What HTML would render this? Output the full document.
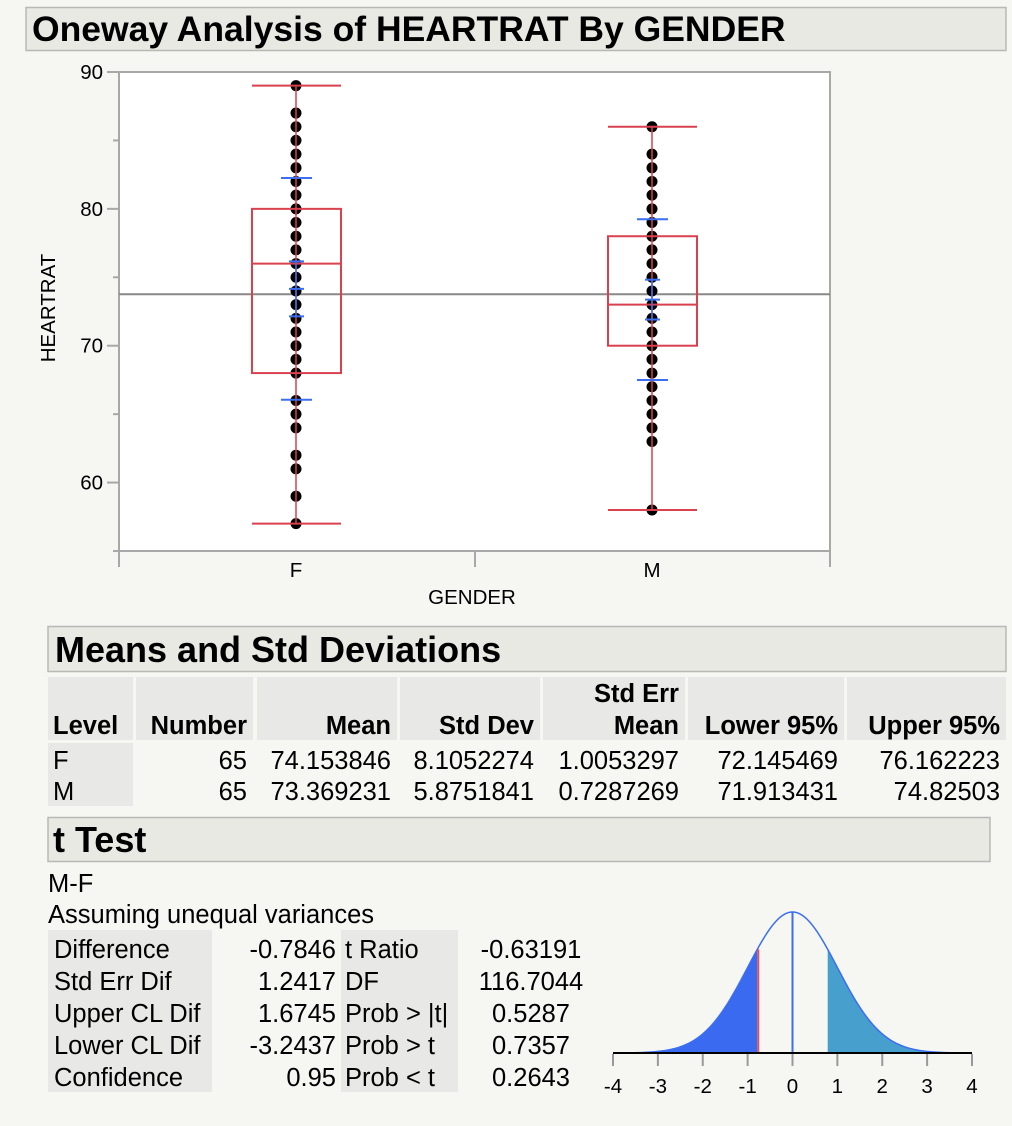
<!DOCTYPE html>
<html><head><meta charset="utf-8">
<style>
html,body{margin:0;padding:0;background:#f6f6f2;}
svg{display:block;font-family:"Liberation Sans",Arial,sans-serif;}
</style></head>
<body>
<svg id="root" width="1012" height="1126" viewBox="0 0 1012 1126">
<rect x="0" y="0" width="1012" height="1126" fill="#f6f6f2"/>
<g>
<rect x="26" y="7.5" width="980" height="43" fill="#e9e9e4" stroke="#b8b8b4" stroke-width="1.5"/>
<text x="32" y="41" font-size="35.5" font-weight="bold" fill="#000">Oneway Analysis of HEARTRAT By GENDER</text>
</g>
<g id="plot"></g>
<g>
<rect x="48" y="626.5" width="958" height="45" fill="#e9e9e4" stroke="#b8b8b4" stroke-width="1.5"/>
<text x="55" y="662" font-size="36" font-weight="bold">Means and Std Deviations</text>
</g>
<g id="means"></g>
<g>
<rect x="48" y="817.5" width="942" height="44" fill="#e9e9e4" stroke="#b8b8b4" stroke-width="1.5"/>
<text x="53" y="852" font-size="36" font-weight="bold">t Test</text>
</g>
<text x="48" y="892" font-size="25.5">M-F</text>
<text x="48" y="923" font-size="25.5">Assuming unequal variances</text>
<g id="ttest"></g>
<g id="tdist"></g>
</svg>
<script>
const groups = ["F","M"];
const fValues = [89,87,86,85,84,83,82,81,80,79,78,77,76,75,74,73,72,71,70,69,68,66,65,64,62,61,59,57];
const mValues = [86,84,83,82,81,80,79,78,77,76,75,74,73,72,71,70,69,68,67,66,65,64,63,58];
const boxMin = [57,58];
const boxQ1 = [68,70];
const boxMedian = [76,73];
const boxQ3 = [80,78];
const boxMax = [89,86];
const groupMeans = [74.153846,73.369231];
const groupSD = [8.1052274,5.8751841];
const groupLower95 = [72.145469,71.913431];
const groupUpper95 = [76.162223,74.82503];
const grandMean = 73.76;
const yTicks = [60,70,80,90];
const yMinorTicks = [55,65,75,85];
const tRatio = -0.63191;
const shadeEdge = 0.7846;
const tAxisTicks = [-4,-3,-2,-1,0,1,2,3,4];

const NS="http://www.w3.org/2000/svg";
function mk(parent,tag,attrs,text){const e=document.createElementNS(NS,tag);for(const k in attrs)e.setAttribute(k,attrs[k]);if(text!==undefined)e.textContent=text;parent.appendChild(e);return e;}

const PL=119,PR=830,PT=72,PB=551,Y0=55,Y1=90;
function yS(v){return PB-(v-Y0)/(Y1-Y0)*(PB-PT);}
function xS(i){return [296,652][i];}
const plot=document.getElementById('plot');
let r=mk(plot,'rect',{x:PL,y:PT,width:PR-PL,height:PB-PT,fill:'#fff',stroke:'#a8a8a8','stroke-width':2});


yTicks.forEach(v=>{
  let t=mk(plot,'line',{x1:107,x2:PL,y1:yS(v),y2:yS(v),stroke:'#a8a8a8','stroke-width':2});
  
  
  let l=mk(plot,'text',{x:103,y:yS(v)+7,'font-size':20.5,'text-anchor':'end'},String(v));
  
  
});
yMinorTicks.forEach(v=>{
  let t=mk(plot,'line',{x1:113,x2:PL,y1:yS(v),y2:yS(v),stroke:'#a8a8a8','stroke-width':2});
  
  
});
[PL,475,PR].forEach(x=>{
  let t=mk(plot,'line',{x1:x,x2:x,y1:PB,y2:567,stroke:'#a8a8a8','stroke-width':2});
  
  
});
groups.forEach((g,i)=>{
  let l=mk(plot,'text',{x:xS(i),y:577,'font-size':20.5,'text-anchor':'middle'},g);
  
  
});
let yt=mk(plot,'text',{x:0,y:0,'font-size':20.5,'text-anchor':'middle',transform:'translate(55,308) rotate(-90)'},'HEARTRAT');


let xt=mk(plot,'text',{x:472,y:604,'font-size':20.5,'text-anchor':'middle'},'GENDER');



let gm=mk(plot,'line',{x1:PL,x2:PR,y1:yS(grandMean),y2:yS(grandMean),stroke:'#888','stroke-width':2});



const RED='#d9414f',BLUE='#3b6ef0';
groups.forEach((g,i)=>{
  const cx=xS(i);
  const vals=i===0?fValues:mValues;
  vals.forEach(v=>{
    let d=mk(plot,'ellipse',{cx:cx,cy:yS(v),rx:5.5,ry:5.5,fill:'#000'});
    
    
  });
  const bx0=cx-44,bx1=cx+45;
  let wl=mk(plot,'line',{x1:cx,x2:cx,y1:yS(boxMax[i]),y2:yS(boxMin[i]),stroke:RED,'stroke-width':1.5});
  
  
  [boxMax[i],boxMin[i]].forEach(v=>{
    let c=mk(plot,'line',{x1:bx0,x2:bx1,y1:yS(v),y2:yS(v),stroke:RED,'stroke-width':2});
    
    
  });
  let b=mk(plot,'rect',{x:bx0,y:yS(boxQ3[i]),width:bx1-bx0,height:yS(boxQ1[i])-yS(boxQ3[i]),fill:'none',stroke:RED,'stroke-width':2});
  
  
  let m=mk(plot,'line',{x1:bx0,x2:bx1,y1:yS(boxMedian[i]),y2:yS(boxMedian[i]),stroke:RED,'stroke-width':2});
  
  
  [groupMeans[i]+groupSD[i],groupMeans[i]-groupSD[i]].forEach(v=>{
    let s=mk(plot,'line',{x1:cx-15,x2:cx+16,y1:yS(v),y2:yS(v),stroke:BLUE,'stroke-width':2});
    
    
  });
  [groupLower95[i],groupMeans[i],groupUpper95[i]].forEach(v=>{
    let s=mk(plot,'line',{x1:cx-7,x2:cx+8,y1:yS(v),y2:yS(v),stroke:BLUE,'stroke-width':2});
    
    
  });
  let cl=mk(plot,'line',{x1:cx,x2:cx,y1:yS(groupUpper95[i]),y2:yS(groupLower95[i]),stroke:BLUE,'stroke-width':1.5});
  
  
});

const meansHeaders=[["","Level"],["","Number"],["","Mean"],["","Std Dev"],["Std Err","Mean"],["","Lower 95%"],["","Upper 95%"]];
const meansRows=[["F","65","74.153846","8.1052274","1.0053297","72.145469","76.162223"],["M","65","73.369231","5.8751841","0.7287269","71.913431","74.82503"]];
const colX=[[48,133],[136,253],[257,397],[400,540],[543,685],[688,844],[847,1006]];
const mt=document.getElementById('means');
colX.forEach((c,j)=>{
  let h=mk(mt,'rect',{x:c[0],y:677,width:c[1]-c[0],height:63,fill:'#e8e8e6'});
  
  
  const anchor=j===0?'start':'end', tx=j===0?c[0]+5:c[1]-6;
  if(meansHeaders[j][0]){let t=mk(mt,'text',{x:tx,y:702,'font-size':25.5,'font-weight':'bold','text-anchor':anchor},meansHeaders[j][0]);}
  let t=mk(mt,'text',{x:tx,y:734,'font-size':25.5,'font-weight':'bold','text-anchor':anchor},meansHeaders[j][1]);
  
  
});
let lv=mk(mt,'rect',{x:48,y:743,width:85,height:63,fill:'#e8e8e6'});


meansRows.forEach((row,i)=>{
  row.forEach((v,j)=>{
    const c=colX[j];
    let t=mk(mt,'text',{x:j===0?c[0]+5:c[1]-6,y:769+i*31,'font-size':25.5,'text-anchor':j===0?'start':'end'},v);
    
    
  });
});

const tLabels1=["Difference","Std Err Dif","Upper CL Dif","Lower CL Dif","Confidence"];
const tValues1=["-0.7846","1.2417","1.6745","-3.2437","0.95"];
const tLabels2=["t Ratio","DF","Prob > |t|","Prob > t","Prob < t"];
const tValues2=["-0.63191","116.7044","0.5287","0.7357","0.2643"];
const tt=document.getElementById('ttest');
[[48,212],[341,458]].forEach(c=>{
  let b=mk(tt,'rect',{x:c[0],y:930,width:c[1]-c[0],height:162,fill:'#e8e8e6'});
  
  
});
tLabels1.forEach((l,i)=>{
  const y=958+i*32;
  let a=mk(tt,'text',{x:54,y:y,'font-size':25.5},l);
  let b=mk(tt,'text',{x:336,y:y,'font-size':25.5,'text-anchor':'end'},tValues1[i]);
  let c=mk(tt,'text',{x:345,y:y,'font-size':25.5},tLabels2[i]);
  let d=mk(tt,'text',{x:531,y:y,'font-size':25.5,'text-anchor':'middle'},tValues2[i]);
});

const TX0=613,TX1=972,TB=1053,TH=141;
function tx(v){return TX0+(v+4)/8*(TX1-TX0);}
function pdf(z){return Math.exp(-z*z/2);}
function ty(z){return TB-pdf(z)*TH;}
const td=document.getElementById('tdist');
function area(a,b,fill,name){
  let d='M'+tx(a)+','+TB;
  for(let z=a;z<=b+1e-9;z+=0.05)d+=' L'+tx(z)+','+ty(z);
  d+=' L'+tx(b)+','+ty(b)+' L'+tx(b)+','+TB+' Z';
  let p=mk(td,'path',{d:d,fill:fill});
  
  
}
area(-4,-Math.abs(shadeEdge),'#3a6af0','left-tail-area');
area(Math.abs(shadeEdge),4,'#479fcd','right-tail-area');
let cd='M'+tx(-4)+','+ty(-4);for(let z=-4;z<=4.001;z+=0.05)cd+=' L'+tx(z)+','+ty(z);
let cv=mk(td,'path',{d:cd,fill:'none',stroke:BLUE,'stroke-width':1.5});


let zl=mk(td,'line',{x1:tx(0),x2:tx(0),y1:TB,y2:ty(0),stroke:BLUE,'stroke-width':2});


let rl=mk(td,'line',{x1:tx(-Math.abs(shadeEdge))+1,x2:tx(-Math.abs(shadeEdge))+1,y1:TB,y2:ty(shadeEdge),stroke:'#e05060','stroke-width':2});


let ax=mk(td,'line',{x1:TX0,x2:TX1,y1:TB,y2:TB,stroke:'#000','stroke-width':2});


tAxisTicks.forEach(v=>{
  let t=mk(td,'line',{x1:tx(v),x2:tx(v),y1:TB+1,y2:1066,stroke:'#999','stroke-width':2});
  
  
  let l=mk(td,'text',{x:tx(v),y:1093,'font-size':20.5,'text-anchor':'middle'},String(v));
  
  
});
</script>
</body></html>
